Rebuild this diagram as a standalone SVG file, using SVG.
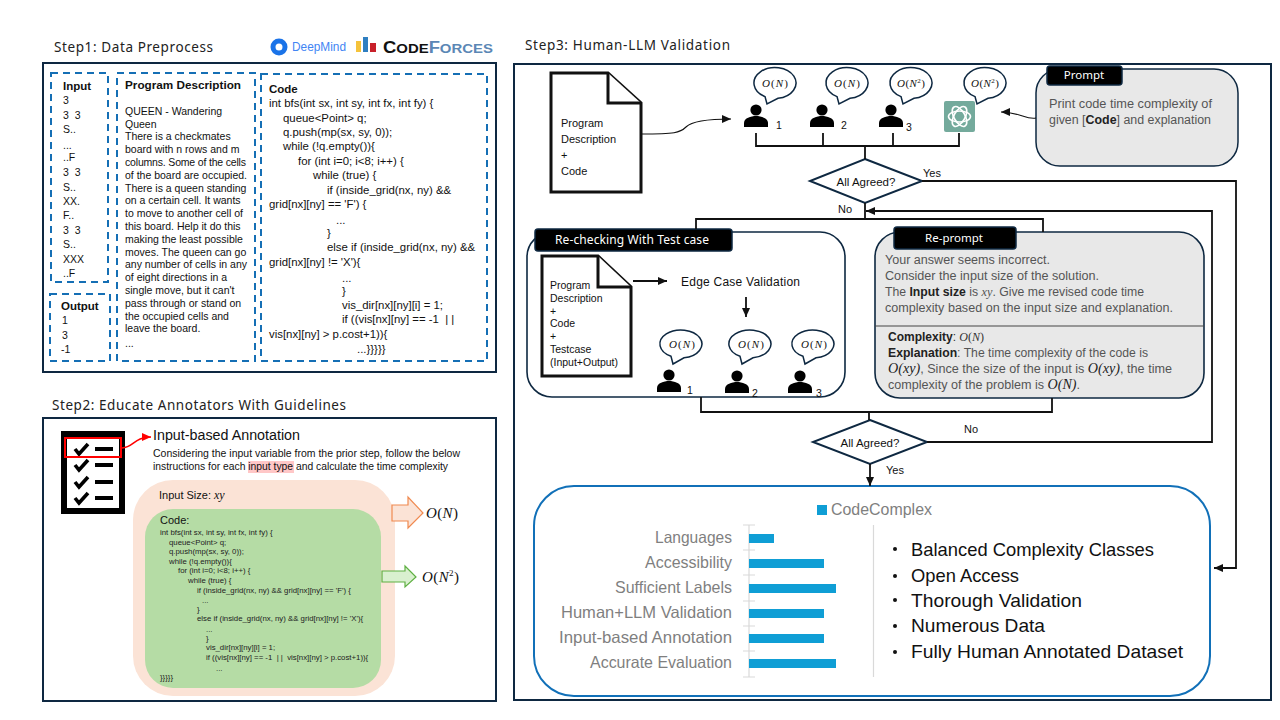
<svg xmlns="http://www.w3.org/2000/svg" xmlns:xlink="http://www.w3.org/1999/xlink" width="1280" height="720" viewBox="0 0 1280 720">
<style>
text{font-family:"Liberation Sans",Arial,sans-serif;fill:#111;font-size:10.5px;white-space:pre}
.title{font-family:"Noto Sans",sans-serif;font-size:13.5px;fill:#222}
.panel{fill:#fff;stroke:#0e2841;stroke-width:2}
.dash{fill:none;stroke:#156fb5;stroke-width:2;stroke-dasharray:7 5}
.b{font-weight:bold}
.c{font-size:11.4px}
.m{font-family:"Liberation Serif",serif;font-style:italic}
.u{font-style:normal}
.mb{font-family:"Liberation Serif",serif;font-style:italic;font-size:11px;text-anchor:middle}
.tiny{font-size:7.8px;fill:#222}
.gr{fill:#555;font-size:12.500px}
.dk{fill:#333;font-size:12px}
.doc{fill:#fff;stroke:#111;stroke-width:3;stroke-linejoin:miter}
.tag{fill:#000;stroke:#0e2841;stroke-width:1.5}
.tagt{fill:#fff;font-size:11.5px;text-anchor:middle;font-family:"Noto Sans",sans-serif}
.bub{fill:#fff;stroke:#0e2841;stroke-width:1.5}
.wire{fill:none;stroke:#111;stroke-width:1.8}
.dia{fill:#fff;stroke:#0e2841;stroke-width:2}
.lab{fill:#7f7f7f;font-size:16.500px;text-anchor:end}
.bar{fill:#0f9ed5}
.ax{stroke:#d9d9d9;stroke-width:1.2;fill:none}
.bl{font-size:19px;fill:#111}
.chk{fill:none;stroke:#000;stroke-width:3.6}
</style>
<defs>
<marker id="arr" markerUnits="userSpaceOnUse" markerWidth="10" markerHeight="8" refX="9" refY="4" orient="auto"><path d="M0,0 L9,4 L0,8 Z" fill="#111"/></marker>
<marker id="arrR" markerUnits="userSpaceOnUse" markerWidth="10" markerHeight="8" refX="9" refY="4" orient="auto"><path d="M0,0 L9,4 L0,8 Z" fill="#f00"/></marker>
<g id="person"><circle cx="0" cy="-17" r="5.6" fill="#000"/><path d="M-12,0 V-4 C-12,-9 -5,-11 0,-11 C5,-11 12,-9 12,-4 V0 Z" fill="#000"/></g>
<path id="bubble" class="bub" d="M-10,13.6 A21,15.5 0 1 1 3,15.3 L-8,21 Z"/>
<path id="bubble2" class="bub" d="M-10,12.3 A21,14 0 1 1 3,13.8 L-8,20 Z"/>
<g id="chk"><path class="chk" d="M-6,0 L-2,5 L7,-5"/><path d="M14,0 H32" stroke="#000" stroke-width="4"/></g>
</defs>
<rect width="1280" height="720" fill="#fff"/>

<g id="step1">
<text class="title" x="54" y="52" textLength="159">Step1: Data Preprocess</text>
<g id="logos">
<circle cx="279" cy="47" r="6" fill="none" stroke="#1a73e8" stroke-width="5"/>
<text x="292" y="51" style="fill:#4285f4;font-size:12px" textLength="54" lengthAdjust="spacingAndGlyphs">DeepMind</text>
<rect x="356" y="41" width="5" height="11" fill="#f5c33b"/><rect x="363" y="37" width="5" height="15" fill="#2f7fc1"/><rect x="370" y="43" width="6" height="9" fill="#c8202a"/>
<text x="383" y="52.500" textLength="110" lengthAdjust="spacingAndGlyphs" class="b" style="font-size:16px"><tspan style="fill:#111">C</tspan><tspan style="fill:#111;font-size:13px">ODE</tspan><tspan style="fill:#5b87b5">F</tspan><tspan style="fill:#5b87b5;font-size:13px">ORCES</tspan></text>
</g>
<rect class="panel" x="43" y="63" width="453" height="309"/>
<g id="input-box"><rect class="dash" x="51" y="73" width="57" height="209"/>
<text class="b" x="63" y="90" style="font-size:11.5px">Input</text>
<text x="63" y="104">3</text><text x="63" y="119">3  3</text><text x="63" y="133">S..</text><text x="63" y="149">...</text><text x="63" y="161">..F</text><text x="63" y="176">3  3</text><text x="63" y="191">S..</text><text x="63" y="205">XX.</text><text x="63" y="219">F..</text><text x="63" y="234">3  3</text><text x="63" y="248">S..</text><text x="63" y="263">XXX</text><text x="63" y="277">..F</text>
</g>
<g id="output-box"><rect class="dash" x="50" y="294" width="60" height="67"/>
<text class="b" x="61" y="310" style="font-size:11.5px">Output</text>
<text x="62" y="324">1</text><text x="62" y="339">3</text><text x="61" y="353">-1</text>
</g>
<g id="description-box"><rect class="dash" x="117" y="73" width="138" height="288"/>
<text class="b" x="125" y="89" style="font-size:11.5px" textLength="116" lengthAdjust="spacingAndGlyphs">Program Description</text>
<text x="125" y="115">QUEEN - Wandering</text><text x="125" y="128">Queen</text><text x="125" y="140">There is a checkmates</text><text x="125" y="153">board with n rows and m</text><text x="125" y="166" textLength="121">columns. Some of the cells</text><text x="125" y="179">of the board are occupied.</text><text x="125" y="192">There is a queen standing</text><text x="125" y="204">on a certain cell. It wants</text><text x="125" y="217">to move to another cell of</text><text x="125" y="230">this board. Help it do this</text><text x="125" y="243">making the least possible</text><text x="125" y="256">moves. The queen can go</text><text x="125" y="268">any number of cells in any</text><text x="125" y="281">of eight directions in a</text><text x="125" y="294">single move, but it can't</text><text x="125" y="307">pass through or stand on</text><text x="125" y="320">the occupied cells and</text><text x="125" y="332">leave the board.</text><text x="125" y="347">...</text>
</g>
<g id="code-box"><rect class="dash" x="261" y="74" width="226" height="287"/>
<text class="b" x="269" y="93" style="font-size:11.5px">Code</text>
<text class="c" x="269" y="107">int bfs(int sx, int sy, int fx, int fy) {</text><text class="c" x="283" y="122">queue&lt;Point&gt; q;</text><text class="c" x="283" y="136">q.push(mp(sx, sy, 0));</text><text class="c" x="283" y="150">while (!q.empty()){</text><text class="c" x="298" y="165">for (int i=0; i&lt;8; i++) {</text><text class="c" x="313" y="179">while (true) {</text><text class="c" x="327" y="194">if (inside_grid(nx, ny) &amp;&amp;</text><text class="c" x="269" y="208">grid[nx][ny] == 'F') {</text><text class="c" x="336" y="224">...</text><text class="c" x="327" y="237">}</text><text class="c" x="327" y="251">else if (inside_grid(nx, ny) &amp;&amp;</text><text class="c" x="269" y="266">grid[nx][ny] != 'X'){</text><text class="c" x="342" y="282">...</text><text class="c" x="342" y="295">}</text><text class="c" x="342" y="309">vis_dir[nx][ny][i] = 1;</text><text class="c" x="342" y="323">if ((vis[nx][ny] == -1  | |</text><text class="c" x="269" y="338">vis[nx][ny] &gt; p.cost+1)){</text><text class="c" x="357" y="353">...}}}}}</text>
</g>
</g>

<g id="step2">
<text class="title" x="52" y="410" textLength="294">Step2: Educate Annotators With Guidelines</text>
<rect class="panel" x="43" y="418" width="453" height="283"/>
<g id="checklist">
<rect x="61" y="431" width="64" height="83" fill="#000"/><rect x="67" y="437" width="52" height="71" fill="#fff"/>
<use href="#chk" x="81" y="449"/><use href="#chk" x="81" y="465"/><use href="#chk" x="81" y="482"/><use href="#chk" x="81" y="498"/>
<rect x="65" y="438" width="56" height="19" fill="none" stroke="#f00" stroke-width="2"/>
</g>
<path d="M122,448 C134,447 134,437 151,437" fill="none" stroke="#f00" stroke-width="1.6" marker-end="url(#arrR)"/>
<g id="annotation-text">
<rect x="248" y="461" width="46" height="12" fill="#ffc7c7"/>
<text x="153" y="440" style="font-size:14px" textLength="147" lengthAdjust="spacingAndGlyphs">Input-based Annotation</text>
<text x="153" y="457" textLength="307" lengthAdjust="spacingAndGlyphs">Considering the input variable from the prior step, follow the below</text>
<text x="153" y="470" textLength="295" lengthAdjust="spacingAndGlyphs">instructions for each input type and calculate the time complexity</text>
</g>
<g id="input-size">
<rect x="133" y="480" width="262" height="216" rx="40" fill="#fbe3d6"/>
<text x="159" y="499" style="font-size:11px">Input Size: <tspan class="m" style="font-size:12px">xy</tspan></text>
</g>
<g id="code-card">
<rect x="145" y="509" width="236" height="179" rx="28" fill="#b5dca5"/>
<text x="160" y="524" style="font-size:11px">Code:</text>
<text class="tiny" x="160" y="535">int bfs(int sx, int sy, int fx, int fy) {</text><text class="tiny" x="169" y="545">queue&lt;Point&gt; q;</text><text class="tiny" x="169" y="554">q.push(mp(sx, sy, 0));</text><text class="tiny" x="169" y="564">while (!q.empty()){</text><text class="tiny" x="178" y="573">for (int i=0; i&lt;8; i++) {</text><text class="tiny" x="188" y="583">while (true) {</text><text class="tiny" x="197" y="593">if (inside_grid(nx, ny) &amp;&amp; grid[nx][ny] == 'F') {</text><text class="tiny" x="202" y="603">...</text><text class="tiny" x="197" y="612">}</text><text class="tiny" x="197" y="621">else if (inside_grid(nx, ny) &amp;&amp; grid[nx][ny] != 'X'){</text><text class="tiny" x="206" y="632">...</text><text class="tiny" x="206" y="641">}</text><text class="tiny" x="206" y="650">vis_dir[nx][ny][i] = 1;</text><text class="tiny" x="206" y="660">if ((vis[nx][ny] == -1  | |  vis[nx][ny] &gt; p.cost+1)){</text><text class="tiny" x="216" y="671">...</text><text class="tiny" x="160" y="680">}}}}}</text>
</g>
<path d="M392,505 H408 V497 L423,513 L408,528 V521 H392 Z" fill="#fbe3d6" stroke="#f08a50" stroke-width="1.2"/>
<text class="m" x="426" y="518" style="font-size:15px" textLength="32">O<tspan class="u">(</tspan>N<tspan class="u">)</tspan></text>
<path d="M382,571 H405 V566 L416,577 L405,587 V582 H382 Z" fill="#d9f0cf" stroke="#5fb043" stroke-width="1.2"/>
<text class="m" x="422" y="582" style="font-size:15px" textLength="37">O<tspan class="u">(</tspan>N<tspan dy="-6" class="u" style="font-size:9px">2</tspan><tspan dy="6" class="u">)</tspan></text>
</g>

<text class="title" x="525" y="50" textLength="205">Step3: Human-LLM Validation</text>
<rect class="panel" x="514" y="64" width="757" height="636"/>

<g id="source-doc">
<path class="doc" d="M551,73 H608 L641,103 V192 H551 Z"/><path class="doc" d="M608,73 V103 H641" fill="none"/>
<text x="561" y="127" style="font-size:11px">Program</text><text x="561" y="143" style="font-size:11px">Description</text><text x="561" y="159" style="font-size:11px">+</text><text x="561" y="175" style="font-size:11px">Code</text>
</g>

<g id="annotator-1"><use href="#bubble" x="775" y="83"/><text class="mb" x="775" y="87" textLength="26">O<tspan class="u">(</tspan>N<tspan class="u">)</tspan></text><use href="#person" x="756" y="127"/><text x="776" y="129">1</text></g>
<g id="annotator-2"><use href="#bubble" x="847" y="83"/><text class="mb" x="847" y="87" textLength="26">O<tspan class="u">(</tspan>N<tspan class="u">)</tspan></text><use href="#person" x="822" y="127"/><text x="841" y="129">2</text></g>
<g id="annotator-3"><use href="#bubble" x="911" y="83"/><text class="mb" x="911" y="87" textLength="28">O<tspan class="u">(</tspan>N<tspan dy="-4" class="u" style="font-size:7px">2</tspan><tspan dy="4" class="u">)</tspan></text><use href="#person" x="891" y="127"/><text x="906" y="131">3</text></g>
<g id="llm"><use href="#bubble" x="985" y="83"/><text class="mb" x="985" y="87" textLength="28">O<tspan class="u">(</tspan>N<tspan dy="-4" class="u" style="font-size:7px">2</tspan><tspan dy="4" class="u">)</tspan></text>
<rect x="944" y="101" width="31" height="31" rx="2" fill="#74aa9c"/>
<g fill="none" stroke="#fff" stroke-width="1.6"><ellipse cx="959.500" cy="116.500" rx="11" ry="5.500"/><ellipse cx="959.500" cy="116.500" rx="11" ry="5.500" transform="rotate(60 959.500 116.500)"/><ellipse cx="959.500" cy="116.500" rx="11" ry="5.500" transform="rotate(120 959.500 116.500)"/></g>
</g>

<g id="prompt">
<rect x="1036" y="69" width="202" height="97" rx="24" fill="#e8e8e8" stroke="#0e2841" stroke-width="1.5"/>
<rect class="tag" x="1047" y="66" width="75" height="19" rx="3"/>
<text class="tagt" x="1084" y="79">Prompt</text>
<text class="gr" x="1049" y="108" textLength="163" lengthAdjust="spacingAndGlyphs">Print code time complexity of</text>
<text class="gr" x="1049" y="124" textLength="162" lengthAdjust="spacingAndGlyphs">given [<tspan class="b" style="fill:#222">Code</tspan>] and explanation</text>
</g>

<g id="agree-1"><path class="dia" d="M865,159 L922,181 L865,203 L810,181 Z"/><text x="866" y="186" text-anchor="middle" style="font-size:11.5px">All Agreed?</text></g>
<text x="923" y="177" style="font-size:11px">Yes</text>
<text x="838" y="213" style="font-size:11px">No</text>

<g id="recheck">
<rect x="527" y="232" width="318" height="165" rx="25" fill="#fff" stroke="#0e2841" stroke-width="1.6"/>
<rect class="tag" x="535" y="229" width="197" height="22" rx="3"/>
<text class="tagt" x="632" y="244" textLength="154" style="font-size:12px">Re-checking With Test case</text>
<path class="doc" d="M542,256 H598 L631,287 V376 H542 Z"/><path class="doc" d="M598,256 V287 H631" fill="none"/>
<text x="550" y="289">Program</text><text x="550" y="302">Description</text><text x="550" y="315">+</text><text x="550" y="327">Code</text><text x="550" y="340">+</text><text x="550" y="353">Testcase</text><text x="550" y="366">(Input+Output)</text>
<text x="681" y="286" style="font-size:12px" textLength="119">Edge Case Validation</text>
<use href="#bubble2" x="681" y="344"/><text class="mb" x="682" y="348" textLength="26">O<tspan class="u">(</tspan>N<tspan class="u">)</tspan></text><use href="#person" x="669" y="392"/><text x="687" y="394">1</text>
<use href="#bubble2" x="750" y="344"/><text class="mb" x="751" y="348" textLength="26">O<tspan class="u">(</tspan>N<tspan class="u">)</tspan></text><use href="#person" x="737" y="393"/><text x="752" y="397">2</text>
<use href="#bubble2" x="813" y="344"/><text class="mb" x="814" y="348" textLength="26">O<tspan class="u">(</tspan>N<tspan class="u">)</tspan></text><use href="#person" x="800" y="393"/><text x="816" y="397">3</text>
</g>

<g id="reprompt">
<rect x="875" y="232" width="329" height="166" rx="25" fill="#e8e8e8" stroke="#0e2841" stroke-width="1.6"/>
<path d="M875,326 H1204" stroke="#444" stroke-width="1"/>
<rect class="tag" x="894" y="227" width="122" height="22" rx="3"/>
<text class="tagt" x="954" y="242">Re-prompt</text>
<text class="gr" x="885" y="264" textLength="165" lengthAdjust="spacingAndGlyphs">Your answer seems incorrect.</text>
<text class="gr" x="885" y="280" textLength="214" lengthAdjust="spacingAndGlyphs">Consider the input size of the solution.</text>
<text class="gr" x="885" y="296" textLength="259" lengthAdjust="spacingAndGlyphs">The <tspan class="b" style="fill:#222">Input size</tspan> is <tspan class="m">xy</tspan>. Give me revised code time</text>
<text class="gr" x="885" y="312" textLength="288" lengthAdjust="spacingAndGlyphs">complexity based on the input size and explanation.</text>
<text class="dk" x="888" y="341"><tspan class="b" style="fill:#222">Complexity</tspan>: <tspan class="m">O</tspan><tspan style="font-family:'Liberation Serif',serif">(</tspan><tspan class="m">N</tspan><tspan style="font-family:'Liberation Serif',serif">)</tspan></text>
<text class="gr" x="888" y="357" textLength="260" lengthAdjust="spacingAndGlyphs"><tspan class="b" style="fill:#222">Explanation</tspan>: The time complexity of the code is</text>
<text class="gr" x="888" y="373" textLength="284" lengthAdjust="spacingAndGlyphs"><tspan class="m" style="fill:#222;font-size:14px">O(xy)</tspan>, Since the size of the input is <tspan class="m" style="fill:#222;font-size:14px">O(xy)</tspan>, the time</text>
<text class="gr" x="888" y="389" textLength="192" lengthAdjust="spacingAndGlyphs">complexity of the problem is <tspan class="m" style="fill:#222;font-size:14px">O(N)</tspan>.</text>
</g>

<g id="agree-2"><path class="dia" d="M870,420 L927,442 L870,464 L813,442 Z"/><text x="870" y="447" text-anchor="middle" style="font-size:11.5px">All Agreed?</text></g>
<text x="964" y="433" style="font-size:11px">No</text>
<text x="886" y="474" style="font-size:11px">Yes</text>

<g id="codecomplex">
<rect x="534" y="486" width="676" height="210" rx="40" fill="#fff" stroke="#1170b8" stroke-width="2"/>
<rect x="817" y="505" width="10" height="10" fill="#0f9ed5"/>
<text x="831" y="514.500" style="font-size:16.500px;fill:#7f7f7f" textLength="101" lengthAdjust="spacingAndGlyphs">CodeComplex</text>
<path class="ax" d="M749,525 V677 M743,525 H755 M743,550 H755 M743,575 H755 M743,601 H755 M743,626 H755 M743,651 H755 M743,677 H755 M873.500,525 V677"/>
<text class="lab" x="732" y="543" textLength="77" lengthAdjust="spacingAndGlyphs">Languages</text>
<text class="lab" x="732" y="568" textLength="87" lengthAdjust="spacingAndGlyphs">Accessibility</text>
<text class="lab" x="732" y="593" textLength="117" lengthAdjust="spacingAndGlyphs">Sufficient Labels</text>
<text class="lab" x="732" y="618" textLength="171" lengthAdjust="spacingAndGlyphs">Human+LLM Validation</text>
<text class="lab" x="732" y="643" textLength="173" lengthAdjust="spacingAndGlyphs">Input-based Annotation</text>
<text class="lab" x="732" y="668" textLength="142" lengthAdjust="spacingAndGlyphs">Accurate Evaluation</text>
<rect class="bar" x="749" y="534" width="25" height="9"/><rect class="bar" x="749" y="559" width="75" height="9"/><rect class="bar" x="749" y="584" width="87" height="9"/><rect class="bar" x="749" y="609" width="75" height="9"/><rect class="bar" x="749" y="634" width="75" height="9"/><rect class="bar" x="749" y="659" width="87" height="9"/>
<g fill="#111"><circle cx="895" cy="549" r="2"/><circle cx="895" cy="576" r="2"/><circle cx="895" cy="600" r="2"/><circle cx="895" cy="626" r="2"/><circle cx="895" cy="652" r="2"/></g>
<text class="bl" x="911" y="556" textLength="243" lengthAdjust="spacingAndGlyphs">Balanced Complexity Classes</text>
<text class="bl" x="911" y="582" textLength="108" lengthAdjust="spacingAndGlyphs">Open Access</text>
<text class="bl" x="911" y="607" textLength="171" lengthAdjust="spacingAndGlyphs">Thorough Validation</text>
<text class="bl" x="911" y="632" textLength="134" lengthAdjust="spacingAndGlyphs">Numerous Data</text>
<text class="bl" x="911" y="658" textLength="272" lengthAdjust="spacingAndGlyphs">Fully Human Annotated Dataset</text>
</g>

<g id="connectors">
<path class="wire" style="stroke-width:1.1" d="M641,134 C675,134 680,133 686,127 C692,121 710,119 731,119" marker-end="url(#arr)"/>
<path class="wire" style="stroke-width:1.1" d="M1036,118 C1026,120 1020,112 1001,112" marker-end="url(#arr)"/>
<path class="wire" d="M756,133 V146 H959 V133 M823,133 V146 M893,133 V146 M865,146 V159"/>
<path class="wire" d="M922,181 H1236 V568 H1214" marker-end="url(#arr)"/>
<path class="wire" d="M865,203 V219 M696,229 V219 H1043 V232"/>
<path class="wire" d="M927,442 H1212 V211 H866" marker-end="url(#arr)"/>
<path class="wire" d="M701,397 V412 H1052 V398 M869,412 V420"/>
<path class="wire" d="M870,464 V486" marker-end="url(#arr)"/>
<path class="wire" d="M633,281 H667" marker-end="url(#arr)"/>
<path class="wire" d="M746,297 V317" marker-end="url(#arr)"/>
</g>
</svg>
